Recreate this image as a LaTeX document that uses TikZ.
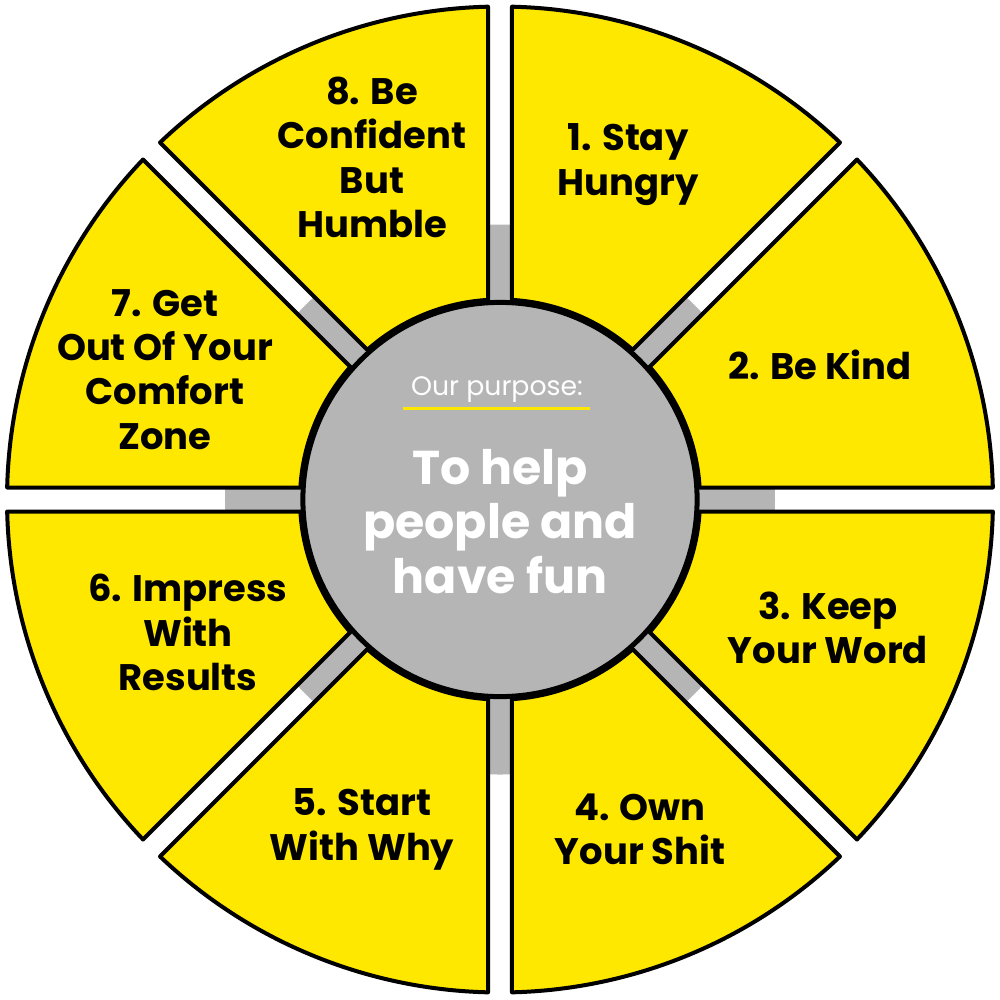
\documentclass[tikz,border=0pt]{standalone}
\usepackage{fontspec}
\setmainfont{Poppins}
\definecolor{yel}{HTML}{FFE800}
\definecolor{gry}{HTML}{B5B5B5}
\begin{document}
\begin{tikzpicture}[x=0.01cm,y=0.01cm,
  sect/.style={fill=yel,draw=black,line width=0.04cm,line join=round},
  lab/.style={align=center,font=\fontsize{10.5pt}{12.6pt}\selectfont\bfseries,text=black}]
\useasboundingbox (-500,-499.5) rectangle (500,499.5);
\fill[gry] (0,0) circle (275);
\pgfmathsetmacro{\h}{12}
\pgfmathsetmacro{\R}{493}
\pgfmathsetmacro{\r}{200}
\pgfmathsetmacro{\dout}{asin(\h/\R)}
\pgfmathsetmacro{\din}{asin(\h/\r)}
\foreach \a in {0,45,...,315}{
  \pgfmathsetmacro{\sa}{\a+\dout}
  \pgfmathsetmacro{\ea}{\a+45-\dout}
  \pgfmathsetmacro{\si}{\a+\din}
  \pgfmathsetmacro{\ei}{\a+45-\din}
  \draw[sect] (\si:\r) -- (\sa:\R) arc[start angle=\sa,end angle=\ea,radius=\R] -- (\ei:\r) arc[start angle=\ei,end angle=\si,radius=\r] -- cycle;
}
\node[circle,fill=gry,draw=black,line width=0.05cm,minimum size=3.94cm,inner sep=0] (c) at (0,0) {};
\node[lab] (n1) at (128,335) {1. Stay\\Hungry};
\node[lab] (n2) at (320,135) {2. Be Kind};
\node[lab] (n3) at (328,-128) {3. Keep\\Your Word};
\node[lab] (n4) at (140,-330) {4. Own\\Your Shit};
\node[lab] (n5) at (-138,-330) {5. Start\\With Why};
\node[lab] (n6) at (-312,-133) {6. Impress\\With\\Results};
\node[lab] (n7) at (-335,130) {7. Get\\Out Of Your\\Comfort\\Zone};
\node[lab] (n8) at (-128,342) {8. Be\\Confident\\But\\Humble};
\node[text=white,font=\fontsize{7.6pt}{9pt}\selectfont] (p) at (-3,110) {Our purpose:};
\draw[yel,line width=0.03cm] (-97,91) -- (90,91);
\node[align=center,text=white,font=\fontsize{13.5pt}{15.6pt}\selectfont\bfseries] (m) at (0,-22) {To help\\people and\\have fun};
\end{tikzpicture}
\end{document}
